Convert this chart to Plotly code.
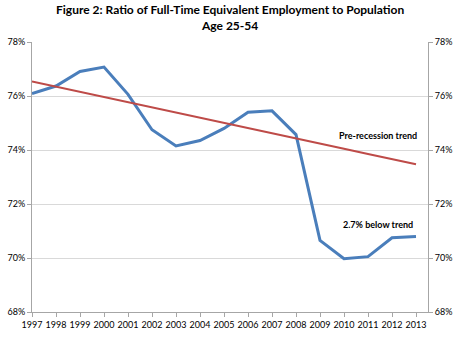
import plotly.graph_objects as go

years = list(range(1997, 2014))
ratio = [76.09, 76.37, 76.91, 77.07, 76.06, 74.75, 74.15, 74.35, 74.80, 75.40,
         75.45, 74.57, 70.65, 69.97, 70.05, 70.75, 70.80]
trend = [76.54, 76.35, 76.16, 75.96, 75.77, 75.58, 75.39, 75.20, 75.01, 74.81,
         74.62, 74.43, 74.24, 74.05, 73.85, 73.66, 73.47]
ytick_vals = [68, 70, 72, 74, 76, 78]
ytick_text = ["68%", "70%", "72%", "74%", "76%", "78%"]
title_lines = ["Figure 2: Ratio of Full-Time Equivalent Employment to Population", "Age 25-54"]
notes = [("Pre-recession trend", 2011.4, 74.55), ("2.7% below trend", 2011.4, 71.25)]

FONT = "Lato"
fig = go.Figure()
fig.add_trace(go.Scatter(x=years, y=ratio, mode="lines",
                         line=dict(color="#4A7EBB", width=3), showlegend=False))
fig.add_trace(go.Scatter(x=years, y=trend, mode="lines",
                         line=dict(color="#BE4B48", width=2), showlegend=False))
# invisible trace for right axis
fig.add_trace(go.Scatter(x=years, y=trend, mode="lines", yaxis="y2",
                         line=dict(width=0), opacity=0, showlegend=False, hoverinfo="skip"))

for text, xx, yy in notes:
    fig.add_annotation(x=xx, y=yy, text="<b>" + text + "</b>", showarrow=False,
                       font=dict(family=FONT, size=9, color="black"),
                       xanchor="center", yanchor="middle")

fig.add_annotation(xref="paper", yref="paper", x=0.5, y=1.0, yshift=25,
                   text="<b>" + title_lines[0] + "</b><br><b>" + title_lines[1] + "</b>",
                   showarrow=False, font=dict(family=FONT, size=12, color="black"),
                   xanchor="center", yanchor="middle", align="center")

axis_y = dict(range=[68, 78], tickvals=ytick_vals, ticktext=ytick_text,
              showline=True, linecolor="#A6A6A6", linewidth=1,
              ticks="outside", ticklen=4, tickcolor="#A6A6A6", automargin=False,
              tickfont=dict(family=FONT, size=9, color="black"), zeroline=False)

fig.update_layout(
    width=455, height=338,
    margin=dict(l=32, r=27, t=42, b=26),
    plot_bgcolor="white", paper_bgcolor="white",
    xaxis=dict(range=[1997, 2013.5], tickvals=years, ticktext=[str(y) for y in years],
               showline=True, linecolor="#A6A6A6", linewidth=1,
               ticks="outside", ticklen=4, tickcolor="#A6A6A6", automargin=False,
               tickfont=dict(family=FONT, size=9, color="black"),
               showgrid=False, zeroline=False),
    yaxis=dict(**axis_y, showgrid=True, gridcolor="#D9D9D9", gridwidth=1),
    yaxis2=dict(**axis_y, overlaying="y", side="right", showgrid=False),
)

fig.write_html("out.html")
